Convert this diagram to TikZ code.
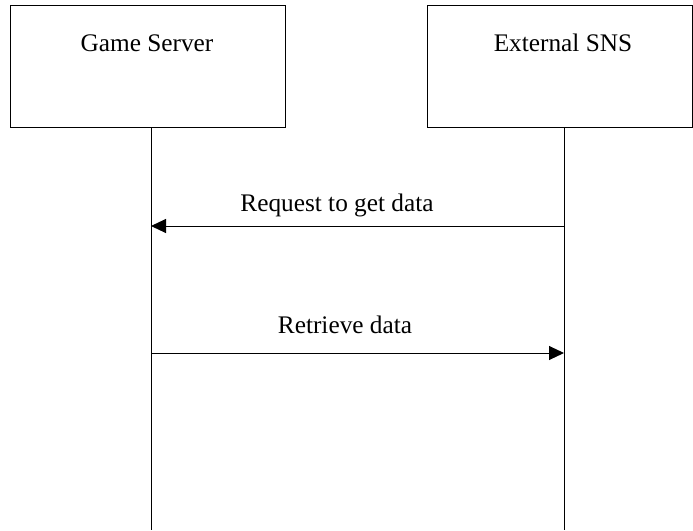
\documentclass[tikz,border=0pt]{standalone}
\usepackage{fontspec}
\setmainfont{Liberation Serif}
\usetikzlibrary{arrows.meta}
\begin{document}
\begin{tikzpicture}[x=1pt,y=-1pt,
  actor/.style={draw,line width=1pt,minimum width=0pt},
  life/.style={line width=1pt},
  msg/.style={line width=1pt,-{Triangle[length=15pt,width=14pt]}},
  lbl/.style={font=\fontsize{25.3}{30}\selectfont,inner sep=0pt}]
\useasboundingbox (0,0) rectangle (693,530);
\draw[actor] (10.5,5.5) rectangle (285,127);
\draw[actor] (427,5.5) rectangle (692,127);
\node[lbl] (gs) at (147,43) {Game Server};
\node[lbl] (sns) at (563,43) {External SNS};
\coordinate (gtop) at (151,127);
\coordinate (gbot) at (151,530);
\coordinate (stop) at (564,127);
\coordinate (sbot) at (564,530);
\draw[life] (gtop) -- (gbot);
\draw[life] (stop) -- (sbot);
\coordinate (m1s) at (564,226);
\coordinate (m1e) at (151,226);
\coordinate (m2s) at (151,353);
\coordinate (m2e) at (564,353);
\draw[msg] (m1s) -- (m1e);
\draw[msg] (m2s) -- (m2e);
\node[lbl] (l1) at (337,205) {Request to get data};
\node[lbl] (l2) at (345,325) {Retrieve data};
\end{tikzpicture}
\end{document}
